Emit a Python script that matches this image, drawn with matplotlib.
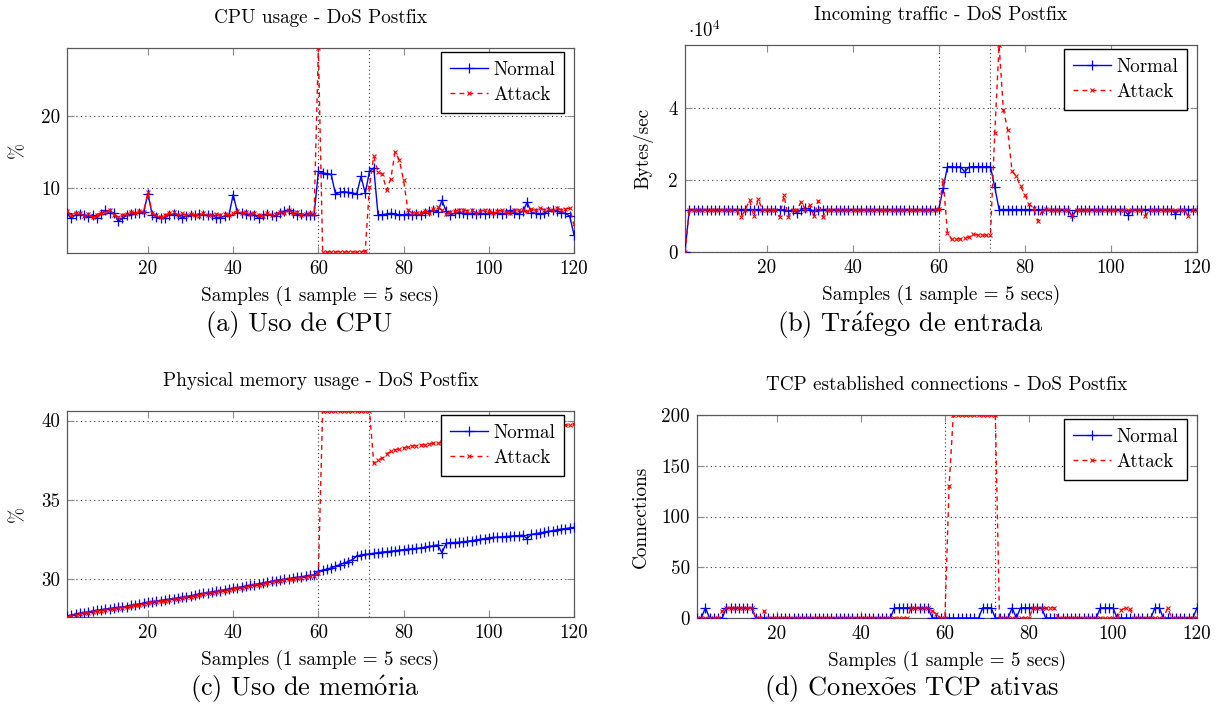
import matplotlib

matplotlib.use("Agg")
import matplotlib.pyplot as plt
import numpy as np
from matplotlib.ticker import FuncFormatter

plt.rcParams["font.family"] = ["cmr10", "DejaVu Serif"]
plt.rcParams["mathtext.fontset"] = "cm"
plt.rcParams["axes.unicode_minus"] = False

W, H = 1228, 709

# ---- (a) CPU usage (%)
cpu_normal = [
    6.5, 5.8, 6.3, 6.4, 6.2, 6.0, 6.3, 5.9, 6.4, 6.9, 6.5, 6.6, 5.4, 5.8, 6.2, 6.4, 6.5, 6.5, 6.7, 9.2,
    6.3, 6.0, 5.8, 5.9, 6.3, 6.4, 6.3, 5.8, 6.1, 6.3, 6.2, 6.4, 6.3, 6.2, 6.3, 5.9, 5.9, 6.1, 6.2, 9.1,
    6.6, 6.5, 6.4, 6.2, 6.3, 5.8, 6.3, 6.4, 6.2, 6.1, 6.5, 6.8, 7.0, 6.6, 6.3, 6.4, 6.3, 6.3, 6.3,
    12.3, 12.1, 12.0, 11.9, 9.2, 9.4, 9.5, 9.4, 9.3, 9.2, 11.6, 9.3, 12.3, 12.8, 6.3, 6.3, 6.4, 6.5, 6.4, 6.3,
    6.3, 6.4, 6.3, 6.4, 6.3, 6.6, 6.8, 6.9, 6.7, 8.3, 6.8, 6.3, 6.5, 6.6, 6.5, 6.4, 6.5, 6.4, 6.5, 6.4,
    6.5, 6.5, 6.6, 6.4, 6.5, 6.9, 6.6, 6.4, 6.8, 8.0, 6.6, 6.5, 6.4, 6.5, 6.8, 6.9, 6.8, 6.6, 6.5, 6.1,
    3.5,
]
cpu_attack = [
    6.8, 6.2, 6.6, 6.5, 6.1, 6.4, 6.0, 6.3, 6.5, 6.7, 6.9, 6.3, 6.0, 6.3, 6.4, 6.7, 6.5, 6.8, 6.7, 9.4,
    6.5, 6.2, 6.0, 6.2, 6.5, 6.7, 6.3, 6.5, 6.2, 6.4, 6.3, 6.1, 6.5, 6.3, 6.2, 6.4, 6.2, 6.4, 6.3, 6.6,
    6.8, 6.5, 6.7, 6.4, 6.6, 6.3, 6.1, 6.5, 6.2, 6.4, 6.7, 6.6, 6.9, 6.5, 6.7, 6.3, 6.4, 6.5, 6.4,
    29.4, 1.2, 1.1, 1.2, 1.1, 1.2, 1.1, 1.2, 1.2, 1.1, 1.2, 1.3, 10.2, 14.4, 12.2, 12.0, 9.7, 11.3, 15.0, 13.9,
    11.1, 7.0, 6.5, 6.6, 6.5, 6.8, 6.6, 7.1, 7.4, 6.9, 6.4, 6.7, 6.8, 6.9, 7.0, 6.8, 6.9, 6.6, 6.8, 6.9,
    6.8, 6.6, 6.8, 6.9, 6.7, 6.6, 6.9, 7.0, 6.9, 6.8, 7.1, 6.9, 7.2, 7.0, 7.1, 6.9, 7.2, 7.0, 7.1, 7.2,
    5.0,
]

# ---- (b) incoming traffic (bytes/sec)
traffic_normal = (
    [0] + [11800] * 23 + [11300, 11800, 10800, 11800, 12200, 11800, 11400] + [11800] * 28
    + [12000, 17700, 23700, 23700, 23600, 23700, 22300, 23600, 23700, 23700, 23700, 23700, 23700, 18000]
    + [11800] * 17 + [9900] + [11800] * 12 + [10300] + [11800] * 10 + [10600] + [11800] * 5
)
traffic_attack = (
    [0] + [11700] * 12
    + [9700, 11700, 14400, 10000, 14600, 11800, 11700, 11700, 11700, 9700, 15700, 9800, 11700, 11600,
       14000, 11700, 13000, 10000, 14200, 9800]
    + [11700] * 26
    + [11900, 20000, 5400, 3500, 3700, 3600, 3900, 4200, 5000, 4700, 4800, 4600, 4800, 33000, 57500,
       39500, 34000, 22500, 21000, 18200, 15900, 13200, 12300, 8600, 11500, 11900]
    + [11700] * 5 + [10000] + [11700] * 16 + [10000] + [11700] * 9 + [10000] + [11700] * 2
)

# ---- (c) physical memory usage (%)
mem_normal = [
    27.65, 27.72, 27.78, 27.83, 27.88, 27.92, 27.97, 28.02, 28.06, 28.10, 28.13, 28.17, 28.20, 28.23, 28.25,
    28.33, 28.38, 28.42, 28.48, 28.53, 28.57, 28.60, 28.64, 28.69, 28.72, 28.76, 28.80, 28.84, 28.89, 28.94,
    28.99, 29.04, 29.09, 29.14, 29.18, 29.22, 29.27, 29.32, 29.37, 29.42, 29.46, 29.50, 29.55, 29.60, 29.65,
    29.70, 29.75, 29.80, 29.85, 29.90, 29.94, 29.98, 30.02, 30.06, 30.10, 30.14, 30.18, 30.22, 30.25,
    30.50, 30.55, 30.62, 30.70, 30.80, 30.90, 31.00, 31.10, 31.22, 31.45, 31.50, 31.55, 31.58, 31.62, 31.66,
    31.70, 31.72, 31.75, 31.78, 31.82, 31.85, 31.88, 31.90, 31.93, 31.96, 32.00, 32.05, 32.10, 32.15, 31.65,
    32.25, 32.30, 32.30, 32.32, 32.35, 32.38, 32.42, 32.46, 32.50, 32.55, 32.60, 32.62, 32.64, 32.66, 32.68,
    32.70, 32.72, 32.74, 32.76, 32.55, 32.82, 32.86, 32.90, 32.95, 33.00, 33.05, 33.10, 33.15, 33.18, 33.22,
    33.25,
]
mem_attack = [
    27.60, 27.66, 27.72, 27.77, 27.83, 27.87, 27.92, 27.97, 28.01, 28.05, 28.08, 28.12, 28.15, 28.18, 28.22,
    28.28, 28.33, 28.37, 28.43, 28.48, 28.52, 28.55, 28.59, 28.64, 28.67, 28.71, 28.75, 28.79, 28.84, 28.89,
    28.94, 28.99, 29.04, 29.09, 29.13, 29.17, 29.22, 29.27, 29.32, 29.37, 29.41, 29.45, 29.50, 29.55, 29.60,
    29.65, 29.70, 29.75, 29.80, 29.85, 29.89, 29.93, 29.97, 30.01, 30.05, 30.09, 30.13, 30.17, 30.20,
    30.35, 40.58, 40.60, 40.61, 40.60, 40.59, 40.60, 40.61, 40.60, 40.62, 40.60, 40.61, 40.60,
    37.30, 37.50, 37.62, 37.90, 38.05, 38.15, 38.22, 38.28, 38.33, 38.38, 38.42, 38.45, 38.48, 38.52, 38.55,
    38.58, 38.62, 38.66, 38.70, 38.74, 38.78, 38.82, 38.86, 38.90, 38.94, 38.98, 39.02, 39.06, 39.10, 39.14,
    39.18, 39.22, 39.26, 39.30, 39.34, 39.38, 39.42, 39.46, 39.50, 39.54, 39.58, 39.62, 39.65, 39.68, 39.70,
    39.72, 39.70, 39.75,
]

# ---- (d) TCP established connections
tcp_normal = (
    [0, 0, 10, 0, 0, 0, 0] + [10] * 7 + [0] * 33 + [10] * 9 + [0] * 12 + [10] * 3 + [0] * 4
    + [10, 0, 10, 10, 10, 10, 10, 10] + [0] * 13 + [10] * 4 + [0] * 9 + [10] * 2 + [0] * 8 + [10]
)
tcp_attack = (
    [0] * 6 + [7] + [10] * 7 + [0, 0, 7] + [0] * 34 + [10] * 5 + [7, 4, 0, 0] + [130] + [200] * 11
    + [0] * 8 + [10] * 6 + [0] * 15 + [8, 10, 9] + [0] * 8 + [10] + [0] * 7
)

for s in (cpu_normal, cpu_attack, traffic_normal, traffic_attack, mem_normal, mem_attack,
          tcp_normal, tcp_attack):
    assert len(s) == 120, len(s)

samples = np.arange(1, 121)
attack_window = (60, 72)

PANELS = [
    dict(box=(67, 48, 574, 253), normal=cpu_normal, attack=cpu_attack, ylim=(1.0, 29.4),
         yticks=[10, 20], title="CPU usage - DoS Postfix", ylabel="%", ylabel_x=18,
         caption="(a) Uso de CPU", cap_x=299, cap_y=325),
    dict(box=(685, 45, 1197, 252), normal=traffic_normal, attack=traffic_attack, ylim=(0, 57500),
         yticks=[0, 20000, 40000], title="Incoming traffic - DoS Postfix", ylabel="Bytes/sec",
         ylabel_x=643, caption=r"(b) Tr$\mathrm{\acute{a}}$fego de entrada", cap_x=910, cap_y=325,
         scale=1e4),
    dict(box=(67, 411, 574, 617), normal=mem_normal, attack=mem_attack, ylim=(27.6, 40.6),
         yticks=[30, 35, 40], title="Physical memory usage - DoS Postfix", ylabel="%", ylabel_x=18,
         caption=r"(c) Uso de mem$\mathrm{\acute{o}}$ria", cap_x=305, cap_y=689),
    dict(box=(697, 415, 1197, 618), normal=tcp_normal, attack=tcp_attack, ylim=(0, 200),
         yticks=[0, 50, 100, 150, 200], title="TCP established connections - DoS Postfix",
         ylabel="Connections", ylabel_x=641, caption=r"(d) Conex$\mathrm{\tilde{o}}$es TCP ativas",
         cap_x=911, cap_y=689),
]

fig = plt.figure(figsize=(W / 100, H / 100), dpi=100)

for p in PANELS:
    x0, y0, x1, y1 = p["box"]
    ax = fig.add_axes([x0 / W, 1 - y1 / H, (x1 - x0) / W, (y1 - y0) / H])
    ax.plot(samples, p["normal"], color="blue", lw=1.0, marker="+", ms=7, mew=0.9,
            label="Normal", zorder=3)
    ax.plot(samples, p["attack"], color="red", lw=1.0, ls=(0, (3.5, 3)), marker="x", ms=3.5,
            mew=0.8, label="Attack", zorder=3)
    for xv in attack_window:
        ax.axvline(xv, color="0.2", lw=0.8, ls=(0, (1, 2.5)), zorder=1)
    ax.set_xlim(1, 120)
    ax.set_ylim(*p["ylim"])
    ax.set_xticks([20, 40, 60, 80, 100, 120])
    ax.set_yticks(p["yticks"])
    if "scale" in p:
        ax.yaxis.set_major_formatter(FuncFormatter(lambda v, _: f"{v / 1e4:g}"))
    ax.grid(axis="y", color="0.2", lw=0.8, ls=(0, (1, 3)))
    ax.tick_params(direction="in", length=5, width=0.8, color="0.55", top=True, right=True,
                   labelsize=13.7, pad=5)
    for sp in ax.spines.values():
        sp.set_color("0.35")
        sp.set_linewidth(0.9)
    ax.legend(loc="upper right", bbox_to_anchor=(0.98, 0.98), borderaxespad=0, fontsize=13.7,
              numpoints=1, handlelength=2.0, handletextpad=0.3, fancybox=False, framealpha=1,
              edgecolor="black", borderpad=0.45, labelspacing=0.4)
    cx = (x0 + x1) / 2
    fig.text(cx / W, 1 - (y0 - 30) / H, p["title"], ha="center", va="center", fontsize=13.8)
    fig.text(cx / W, 1 - (y1 + 43) / H, "Samples (1 sample = 5 secs)", ha="center",
             va="center", fontsize=13.8)
    fig.text(p["ylabel_x"] / W, 1 - (y0 + y1) / 2 / H, p["ylabel"], ha="center", va="center",
             rotation=90, fontsize=13.8)
    fig.text(p["cap_x"] / W, 1 - p["cap_y"] / H, p["caption"], ha="center", va="center",
             fontsize=19)

fig.text(688 / W, 1 - 31 / H, r"$\cdot 10^4$", ha="left", va="center", fontsize=13.5)

fig.savefig("out.png", dpi=100)
